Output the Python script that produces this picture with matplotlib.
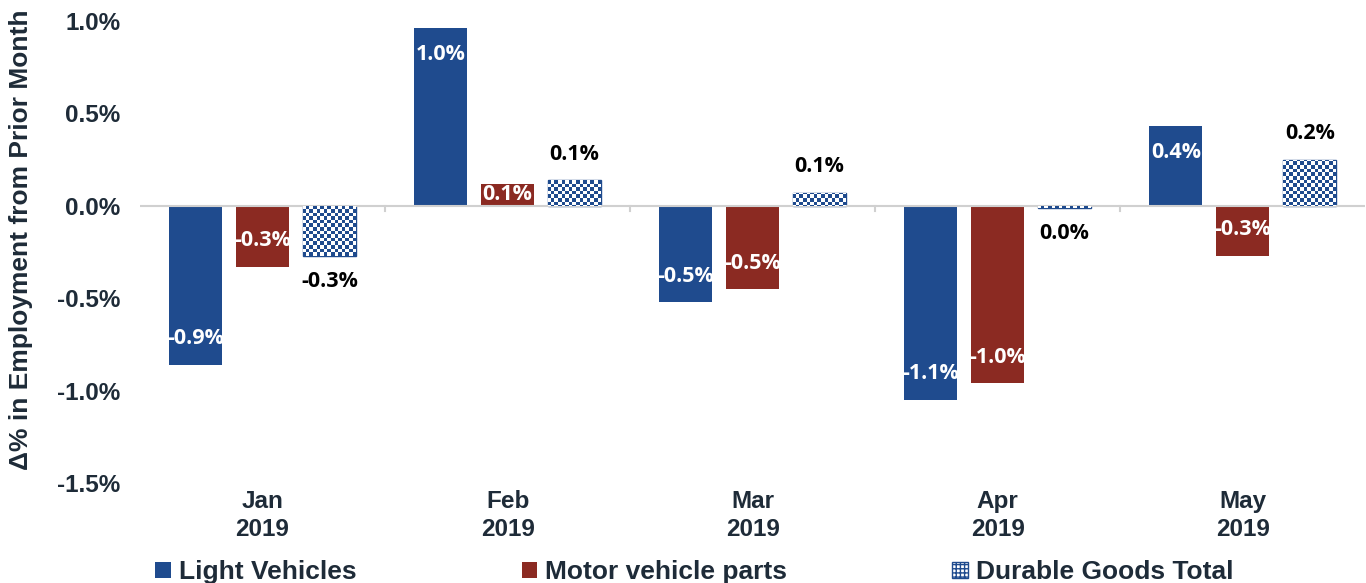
import numpy as np
import matplotlib
matplotlib.use("Agg")
from matplotlib import pyplot as plt
from matplotlib.patches import Patch

plt.rcParams['font.family'] = ['Liberation Sans', 'DejaVu Sans']

months = ['Jan\n2019', 'Feb\n2019', 'Mar\n2019', 'Apr\n2019', 'May\n2019']
light = [-0.86, 0.96, -0.52, -1.05, 0.43]
parts = [-0.33, 0.12, -0.45, -0.96, -0.27]
durable = [-0.27, 0.14, 0.07, -0.01, 0.25]

blue = '#1F4B8E'
red = '#8B2A22'
dark = '#1E2B38'

fig = plt.figure(figsize=(13.66, 5.83), dpi=100)
ax = fig.add_axes([0.1025, 0.1715, 0.897, 0.7925])

x = np.arange(len(months))
w = 0.216
step = 0.273

b1 = ax.bar(x - step, light, w, color=blue)
b2 = ax.bar(x, parts, w, color=red)
b3 = ax.bar(x + step, durable, w, color='white', edgecolor=blue, linewidth=1)

ax.set_xlim(-0.5, len(months) - 0.5)
ax.set_ylim(-1.5, 1.0)

# checkerboard fill for the durable goods bars
cell = 3.6  # pixels
nx = int(0.897 * 1366 / cell)
ny = int(0.7925 * 583 / cell)
checker = (np.add.outer(np.arange(ny), np.arange(nx)) % 2).astype(float)
cmap = matplotlib.colors.ListedColormap(['white', blue])
for bar in b3:
    im = ax.imshow(checker, extent=[-0.5, len(months) - 0.5, -1.5, 1.0],
                   aspect='auto', interpolation='nearest', cmap=cmap, zorder=2)
    im.set_clip_path(bar)
ax.set_xlim(-0.5, len(months) - 0.5)
ax.set_ylim(-1.5, 1.0)

lab_font = dict(fontsize=15.5, fontweight='bold', zorder=5, ha='center', va='center',
                family=['Open Sans', 'DejaVu Sans'])
off = 0.14

for bar, v in zip(b1, light):
    y = v + off if v < 0 else v - off
    ax.text(bar.get_x() + bar.get_width() / 2, y, f'{v:.1f}%', color='white', **lab_font)
for bar, v in zip(b2, parts):
    if abs(v) < 0.2:
        y = v / 2
    else:
        y = v + off if v < 0 else v - off
    ax.text(bar.get_x() + bar.get_width() / 2, y, f'{v:.1f}%', color='white', **lab_font)
for bar, v in zip(b3, durable):
    y = v - off if v < 0 else v + off
    txt = f'{v:.1f}%'.replace('-0.0', '0.0')
    ax.text(bar.get_x() + bar.get_width() / 2, y, txt, color='black', **lab_font)

ax.set_yticks([1.0, 0.5, 0.0, -0.5, -1.0, -1.5])
ax.set_yticklabels(['1.0%', '0.5%', '0.0%', '-0.5%', '-1.0%', '-1.5%'],
                   fontsize=17.5, fontweight='bold', color=dark)
ax.tick_params(axis='y', length=0, pad=14)
ax.set_ylabel('Δ% in Employment from Prior Month', fontsize=19, fontweight='bold',
              color=dark)
ax.yaxis.set_label_coords(-0.0873, 0.526)

for s in ['top', 'right', 'left', 'bottom']:
    ax.spines[s].set_visible(False)
ax.axhline(0, color='#D0D0D0', linewidth=1.5, zorder=1)
for b in np.arange(0.5, len(months) - 0.5, 1):
    ax.plot([b, b], [0, -0.03], color='#D0D0D0', linewidth=1.5, zorder=1, clip_on=False)

ax.set_xticks(x)
ax.set_xticklabels(months, fontsize=17.5, fontweight='bold', color=dark, linespacing=1.3)
ax.tick_params(axis='x', length=0, pad=5)

plt.rcParams['hatch.color'] = blue
handles = [Patch(facecolor=blue, label='Light Vehicles'),
           Patch(facecolor=red, label='Motor vehicle parts'),
           Patch(facecolor='white', edgecolor=blue, hatch='++++', label='Durable Goods Total')]
fig.legend(handles=handles, loc='lower left', bbox_to_anchor=(0.0963, -0.043), ncol=3,
           frameon=False, prop={'size': 19, 'weight': 'bold'}, handlelength=0.6,
           handleheight=0.6, handletextpad=0.3, columnspacing=6.25, labelcolor=dark)

fig.savefig('out.png', dpi=100)
